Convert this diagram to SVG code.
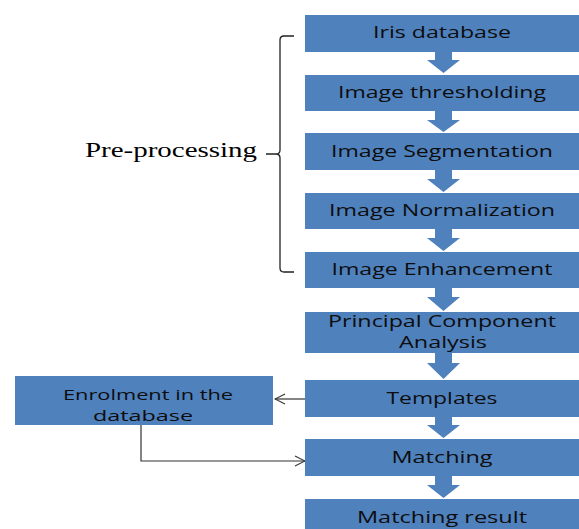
<svg xmlns="http://www.w3.org/2000/svg" width="579" height="529" viewBox="0 0 579 529">
<defs>
<style>
.box{fill:#4F81BD;}
.barrow{fill:#4F81BD;}
.t{font-family:"Open Sans","Liberation Sans",sans-serif;font-size:16.5px;fill:#0d0d0d;text-anchor:middle;}
.t2{font-family:"Open Sans","Liberation Sans",sans-serif;font-size:15px;fill:#0d0d0d;text-anchor:middle;}
.pp{font-family:"Liberation Serif","Times New Roman",serif;font-size:22px;fill:#000;}
.ln{fill:none;stroke:#333;stroke-width:1.2;}
.br{fill:none;stroke:#222;stroke-width:1.3;}
</style>
<marker id="open" viewBox="0 0 12 12" refX="11" refY="6" markerWidth="12" markerHeight="12" markerUnits="userSpaceOnUse" orient="auto">
<path d="M1,1 L11,6 L1,11" fill="none" stroke="#333" stroke-width="1.1"/>
</marker>
</defs>
<rect width="579" height="529" fill="#fff"/>

<g id="connectors">
<path class="barrow" d="M435,52 H452 V60 H460 L443.5,73 L427,60 H435 Z"/>
<path class="barrow" d="M435,111 H452 V120 H460 L443.5,132 L427,120 H435 Z"/>
<path class="barrow" d="M435,170 H452 V179 H460 L443.5,192 L427,179 H435 Z"/>
<path class="barrow" d="M435,229 H452 V238 H460 L443.5,251 L427,238 H435 Z"/>
<path class="barrow" d="M435,288 H452 V297 H460 L443.5,311 L427,297 H435 Z"/>
<path class="barrow" d="M435,353 H452 V363 H460 L443.5,379 L427,363 H435 Z"/>
<path class="barrow" d="M435,417 H452 V425 H460 L443.5,438 L427,425 H435 Z"/>
<path class="barrow" d="M435,476 H452 V485 H460 L443.5,498 L427,485 H435 Z"/>
<path class="ln" d="M305,399 H275" marker-end="url(#open)"/>
<path class="ln" d="M141,425 V461 H305" marker-end="url(#open)"/>
</g>

<g id="brace">
<path class="br" d="M294,36 H284 Q280,36 280,40 V150 Q280,154 276,154 H266 H276 Q280,154 280,158 V268 Q280,272 284,272 H294"/>
</g>

<g id="preprocessing">
<text class="pp" x="85" y="157" textLength="172" lengthAdjust="spacingAndGlyphs">Pre-processing</text>
</g>

<g id="iris-database">
<rect class="box" x="305" y="15" width="276" height="37"/>
<text class="t" x="442" y="38" textLength="138" lengthAdjust="spacingAndGlyphs">Iris database</text>
</g>
<g id="image-thresholding">
<rect class="box" x="305" y="75" width="276" height="36"/>
<text class="t" x="442" y="98" textLength="208" lengthAdjust="spacingAndGlyphs">Image thresholding</text>
</g>
<g id="image-segmentation">
<rect class="box" x="305" y="133" width="276" height="37"/>
<text class="t" x="442" y="157" textLength="222" lengthAdjust="spacingAndGlyphs">Image Segmentation</text>
</g>
<g id="image-normalization">
<rect class="box" x="305" y="193" width="276" height="36"/>
<text class="t" x="442" y="216" textLength="226" lengthAdjust="spacingAndGlyphs">Image Normalization</text>
</g>
<g id="image-enhancement">
<rect class="box" x="305" y="252" width="276" height="36"/>
<text class="t" x="442" y="275" textLength="221" lengthAdjust="spacingAndGlyphs">Image Enhancement</text>
</g>
<g id="pca">
<rect class="box" x="305" y="312" width="276" height="41"/>
<text class="t" x="442" y="327" textLength="228" lengthAdjust="spacingAndGlyphs">Principal Component</text>
<text class="t" x="443" y="348" textLength="88" lengthAdjust="spacingAndGlyphs">Analysis</text>
</g>
<g id="templates">
<rect class="box" x="305" y="380" width="276" height="37"/>
<text class="t" x="442" y="404" textLength="111" lengthAdjust="spacingAndGlyphs">Templates</text>
</g>
<g id="matching">
<rect class="box" x="305" y="439" width="276" height="37"/>
<text class="t" x="442" y="463" textLength="101" lengthAdjust="spacingAndGlyphs">Matching</text>
</g>
<g id="matching-result">
<rect class="box" x="305" y="499" width="276" height="37"/>
<text class="t" x="442" y="523" textLength="170" lengthAdjust="spacingAndGlyphs">Matching result</text>
</g>
<g id="enrolment">
<rect class="box" x="15" y="376" width="258" height="49"/>
<text class="t2" x="148" y="400" textLength="170" lengthAdjust="spacingAndGlyphs">Enrolment in the</text>
<text class="t2" x="143" y="421" textLength="100" lengthAdjust="spacingAndGlyphs">database</text>
</g>
</svg>
